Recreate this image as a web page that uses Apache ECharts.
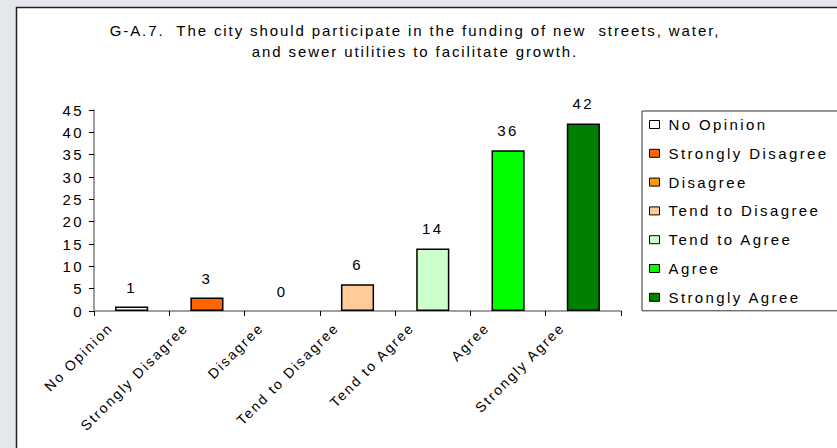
<!DOCTYPE html>
<html>
<head>
<meta charset="utf-8">
<script src="https://cdn.jsdelivr.net/npm/echarts@6/dist/echarts.min.js"></script>
<style>
html,body{margin:0;padding:0;background:#e4e8ec;}
#c{width:837px;height:448px;}
#c text{letter-spacing:2.4px;}
#c text[style*="Helvetica"]{letter-spacing:1.9px;}
#c text[style*="Arimo"]{letter-spacing:2px;}
</style>
</head>
<body>
<div id="c"></div>
<script>
const titleLines = ["G-A.7.  The city should participate in the funding of new  streets, water,", "and sewer utilities to facilitate growth."];
const categories = ["No Opinion", "Strongly Disagree", "Disagree", "Tend to Disagree", "Tend to Agree", "Agree", "Strongly Agree"];
const values = [1, 3, 0, 6, 14, 36, 42];
const colors = ["#ffffff", "#ff6600", "#ff9900", "#ffcc99", "#ccffcc", "#00ff00", "#008000"];
const yTicks = {min: 0, max: 45, interval: 5};

const font = "'Liberation Sans', Arial, sans-serif";
const titleFont = "'Liberation Sans', Helvetica, sans-serif";
const xLabelFont = "'Liberation Sans', Arimo, sans-serif";
const chart = echarts.init(document.getElementById('c'), null, {renderer: 'svg'});

const series = categories.map((name, i) => ({
  name: name,
  type: 'bar',
  stack: 'all',
  barWidth: '44%',
  data: categories.map((c, j) => j === i ? values[i] : null),
  itemStyle: {color: colors[i], borderColor: '#000', borderWidth: values[i] === 0 ? 0 : 1.5},
  label: {show: true, position: 'top', distance: 12, color: '#000', fontSize: 15, fontFamily: font},
  emphasis: {disabled: true}
}));

chart.setOption({
  animation: false,
  backgroundColor: '#e4e8ec',
  graphic: [{
    type: 'rect', z: -10, silent: true,
    shape: {x: 16.5, y: 7.5, width: 900, height: 500},
    style: {fill: '#ffffff', stroke: '#222', lineWidth: 1.5}
  }],
  title: {
    text: titleLines.join('\n'),
    left: 410, top: 15, textAlign: 'center',
    textStyle: {fontSize: 15, fontWeight: 'normal', color: '#000', fontFamily: titleFont, lineHeight: 21}
  },
  legend: {
    orient: 'vertical',
    left: 642, top: 111,
    data: categories,
    icon: 'rect',
    itemWidth: 10, itemHeight: 8, itemGap: 13.8,
    padding: [6, 50, 6, 7],
    borderColor: '#333', borderWidth: 1,
    backgroundColor: '#fff',
    itemStyle: {borderColor: '#000', borderWidth: 1},
    textStyle: {fontSize: 15, color: '#000', fontFamily: font, padding: [0, 0, 0, 4]},
    selectedMode: false
  },
  grid: {left: 94, right: 216, top: 110, bottom: 137, containLabel: false},
  xAxis: {
    type: 'category',
    data: categories,
    axisLine: {lineStyle: {color: '#808080', width: 1.5}},
    axisTick: {show: true, length: 5, lineStyle: {color: '#000'}},
    axisLabel: {rotate: 45, margin: -7, fontSize: 14, color: '#000', fontFamily: xLabelFont, interval: 0, padding: [0, 30, 0, 0]}
  },
  yAxis: {
    type: 'value',
    min: yTicks.min, max: yTicks.max, interval: yTicks.interval,
    axisLine: {show: true, lineStyle: {color: '#808080', width: 1.5}},
    axisTick: {show: true, length: 5, lineStyle: {color: '#000'}},
    splitLine: {show: false},
    axisLabel: {fontSize: 15, color: '#000', fontFamily: font, margin: 10}
  },
  series: series
});
</script>
</body>
</html>
